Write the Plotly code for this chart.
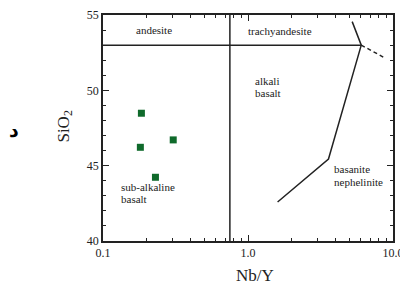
import plotly.graph_objects as go
import numpy as np

# ---- data ----
sample_nb_y = [0.184, 0.181, 0.305, 0.230]
sample_sio2 = [48.48, 46.22, 46.71, 44.23]

# field boundaries
vert_x = [0.75, 0.75]
vert_y = [40, 55]
horiz_x = [0.1, 6.04]
horiz_y = [53, 53]
bound_x = [5.23, 6.04, 3.59, 1.60]
bound_y = [54.56, 53.0, 45.44, 42.59]
dash_x = [6.04, 8.87]
dash_y = [53.0, 52.13]

x_tickvals = [0.1, 1.0, 10.0]
x_ticktext = ["0.1", "1.0", "10.0"]
y_tickvals = [40, 45, 50, 55]

field_labels = [
    ("andesite", 0.224, 54.0, "center"),
    ("trachyandesite", 1.65, 53.94, "center"),
    ("alkali", 1.09, 50.62, "left"),
    ("basalt", 1.09, 49.82, "left"),
    ("basanite", 3.77, 44.78, "left"),
    ("nephelinite", 3.77, 43.92, "left"),
    ("sub-alkaline", 0.128, 43.59, "left"),
    ("basalt", 0.128, 42.79, "left"),
]

SERIF = "Liberation Serif, Times New Roman, DejaVu Serif, serif"
LC = "#222222"

fig = go.Figure()
for xs, ys, dash in [(vert_x, vert_y, "solid"), (horiz_x, horiz_y, "solid"),
                     (bound_x, bound_y, "solid"), (dash_x, dash_y, "4px,3px")]:
    fig.add_trace(go.Scatter(x=xs, y=ys, mode="lines",
                             line=dict(color=LC, width=1.5, dash=dash),
                             showlegend=False, hoverinfo="skip"))

fig.add_trace(go.Scatter(x=sample_nb_y, y=sample_sio2, mode="markers",
                         marker=dict(symbol="square", size=7, color="#0f6a2b",
                                     line=dict(width=0)),
                         showlegend=False))

for txt, x, y, anc in field_labels:
    fig.add_annotation(x=np.log10(x), y=y, text=txt, showarrow=False,
                       xanchor=anc, yanchor="middle",
                       font=dict(family=SERIF, size=11, color="#222"))

plot_w = 290.5
plot_h = 226
L, T = 102.5, 15
# axis titles as annotations (paper coords)
fig.add_annotation(xref="paper", yref="paper",
                   x=(255 - L) / plot_w, y=1 - (275 - T) / plot_h,
                   text="Nb/Y", showarrow=False, xanchor="center", yanchor="middle",
                   font=dict(family=SERIF, size=17, color="#222"))
fig.add_annotation(xref="paper", yref="paper",
                   x=(64 - L) / plot_w, y=1 - (127 - T) / plot_h,
                   text="SiO<sub>2</sub>", showarrow=False, textangle=-90,
                   xanchor="center", yanchor="middle",
                   font=dict(family=SERIF, size=17, color="#222"))
fig.add_annotation(xref="paper", yref="paper",
                   x=(13 - L) / plot_w, y=1 - (130 - T) / plot_h,
                   text="<b>د</b>", showarrow=False, xanchor="center", yanchor="middle",
                   font=dict(family="DejaVu Sans", size=19, color="#000"))

minor_x = [m * d for d in (0.1, 1.0) for m in range(2, 10)]

fig.update_xaxes(type="log", range=[-1, 1], tickvals=x_tickvals, ticktext=x_ticktext,
                 ticks="inside", ticklen=6, tickwidth=1.2, tickcolor=LC,
                 minor=dict(tickvals=minor_x, ticks="inside", ticklen=3,
                            tickwidth=1, tickcolor=LC),
                 showline=True, linecolor=LC, linewidth=1.5, mirror="allticks",
                 showgrid=False, zeroline=False, automargin=False,
                 ticklabeloverflow="allow",
                 tickfont=dict(family=SERIF, size=12, color="#222"))
fig.update_yaxes(range=[40, 55], tickvals=y_tickvals,
                 ticks="inside", ticklen=6, tickwidth=1.2, tickcolor=LC,
                 minor=dict(dtick=1, ticks="inside", ticklen=3,
                            tickwidth=1, tickcolor=LC),
                 showline=True, linecolor=LC, linewidth=1.5, mirror="allticks",
                 showgrid=False, zeroline=False, automargin=False,
                 tickfont=dict(family=SERIF, size=12, color="#222"))

fig.update_layout(width=400, height=284,
                  margin=dict(l=L, r=400 - L - plot_w, t=T, b=284 - T - plot_h,
                              autoexpand=False),
                  font=dict(family=SERIF),
                  paper_bgcolor="white", plot_bgcolor="white")

fig.write_html("out.html", config={"displayModeBar": False},
               post_script="document.body.style.margin='0';document.body.style.overflow='hidden';")
